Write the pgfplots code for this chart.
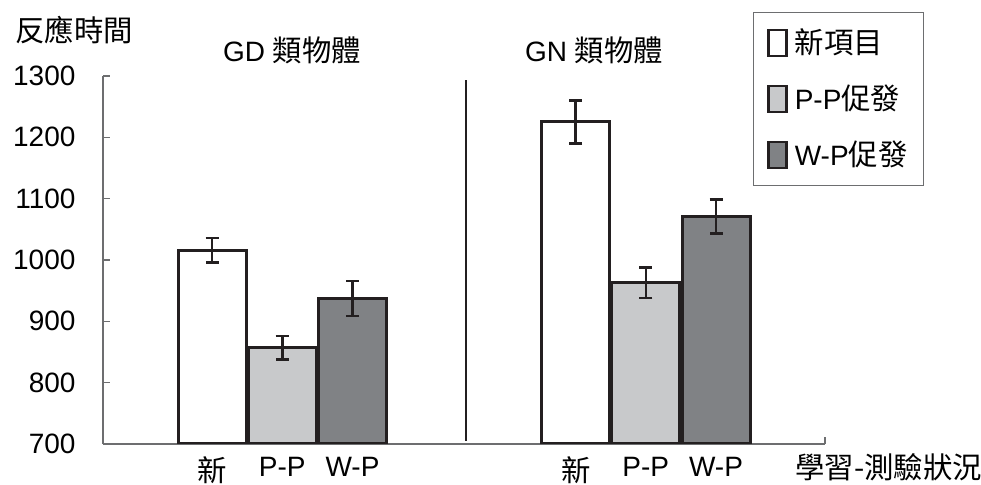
\documentclass[border=0pt]{standalone}
\usepackage{fontspec}
\setmainfont{Liberation Sans}
\newfontfamily\cjk{Noto Sans CJK TC}[Scale=1.05]
\usepackage{pgfplots}
\pgfplotsset{compat=1.18}
\definecolor{barline}{HTML}{231F20}
\definecolor{lightbar}{HTML}{C8C9CB}
\definecolor{darkbar}{HTML}{808285}
\definecolor{axisgray}{HTML}{6D6E70}
\newcommand{\bigf}{\fontsize{28bp}{32bp}\selectfont}
\begin{document}
\bigf
\begin{tikzpicture}
\useasboundingbox (0,0) rectangle (981bp,485bp);
\begin{axis}[
  at={(103bp,41bp)}, anchor=south west,
  scale only axis, width=722bp, height=368bp,
  xmin=0, xmax=722, ymin=700, ymax=1300,
  axis x line=bottom, axis y line=left,
  axis line style={draw=axisgray, line width=1.3bp, -},
  ytick={700,800,...,1300},
  ytick style={draw=axisgray, line width=1.3bp},
  tick align=inside, major tick length=7bp,
  xtick={109,179.2,249.5,472.7,542.8,613},
  xticklabels={{\cjk 新},P-P,W-P,{\cjk 新},P-P,W-P},
  xtick style={draw=none},
  xticklabel style={font=\bigf, yshift=3.5bp},
  yticklabel style={font=\bigf, xshift=-18bp,
    /pgf/number format/assume math mode=true, /pgf/number format/1000 sep={}},
  xlabel={\cjk 學習-測驗狀況},
  xlabel style={at={(axis description cs:1.088,-0.0640)}, anchor=center, font=\bigf},
  ylabel={\cjk 反應時間},
  ylabel style={at={(axis description cs:-0.040,1.125)}, anchor=center, rotate=-90, font=\bigf},
  ybar,
  legend style={at={(0.900,1.174)}, anchor=north west, draw=axisgray, line width=1bp,
    font=\bigf, inner xsep=14bp, inner ysep=14bp,
    row sep=23bp, column sep=5bp, nodes={inner sep=2bp}},
  legend cell align=left,
  legend image code/.code={\draw[#1, line width=2.5bp] (0bp,-13bp) rectangle (18bp,13bp);},
  every axis plot/.append style={bar shift=0pt, bar width=68, draw=barline, line width=3bp,
    error bars/y dir=both, error bars/y explicit,
    error bars/error bar style={line width=2.6bp, draw=barline},
    error bars/error mark options={rotate=90, mark size=6.5bp, line width=2.6bp, draw=barline}},
]
\addplot[fill=white] coordinates {(109,1016) +- (0,20) (472.7,1225) +- (0,35)};
\addlegendentry{\cjk 新項目}
\addplot[fill=lightbar] coordinates {(179.2,857) +- (0,19) (542.8,963) +- (0,25)};
\addlegendentry{P-P{\cjk 促發}}
\addplot[fill=darkbar] coordinates {(249.5,937) +- (0,28.5) (613,1071) +- (0,28)};
\addlegendentry{W-P{\cjk 促發}}
\draw[barline, line width=2bp] (axis cs:363,1293) -- (axis cs:363,705);
\end{axis}
\draw[axisgray, line width=1.3bp] (825bp,41bp) -- (825bp,48bp);
\node at (292bp,435bp) {GD {\cjk 類物體}};
\node at (594bp,435bp) {GN {\cjk 類物體}};
\end{tikzpicture}
\end{document}
